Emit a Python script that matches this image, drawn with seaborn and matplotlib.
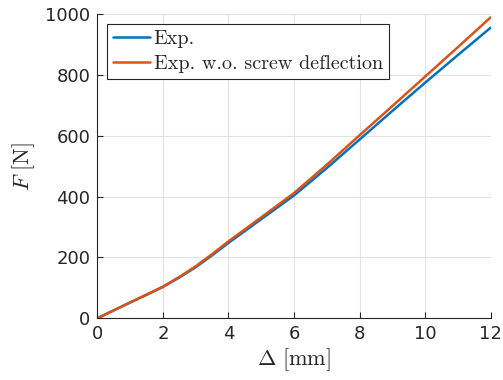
import matplotlib
matplotlib.use("Agg")
import matplotlib.pyplot as plt
from matplotlib.lines import Line2D
import seaborn as sns
import pandas as pd

# Data
displacement = [0, 0.5, 1, 1.5, 2, 2.5, 3, 3.5, 4, 5, 6, 7, 8, 9, 10, 11, 12]
force_exp = [0, 26, 52, 77, 103, 134, 168, 207, 248, 326, 404, 494, 588, 682, 775, 866, 956]
force_no_screw = [0, 26, 52, 78, 104, 136, 171, 211, 253, 332, 412, 505, 602, 698, 795, 892, 990]
x_ticks = [0, 2, 4, 6, 8, 10, 12]
y_ticks = [0, 200, 400, 600, 800, 1000]
series_names = ["Exp.", "Exp. w.o. screw deflection"]

sns.set_style("white")
plt.rcParams["font.family"] = ["DejaVu Sans"]
plt.rcParams["mathtext.fontset"] = "cm"

df = pd.DataFrame({
    "x": displacement * 2,
    "F": force_exp + force_no_screw,
    "series": [series_names[0]] * len(displacement) + [series_names[1]] * len(displacement),
})

fig = plt.figure(figsize=(5.03, 3.80), dpi=100)
ax = fig.add_axes([0.1935, 0.1624, 0.782, 0.80])

palette = {series_names[0]: "#0072BD", series_names[1]: "#D95319"}
sns.lineplot(data=df, x="x", y="F", hue="series", palette=palette, ax=ax,
             linewidth=1.8, legend=False)

ax.set_xlim(0, 12)
ax.set_ylim(0, 1000)
ax.set_xticks(x_ticks)
ax.set_yticks(y_ticks)
ax.grid(True, color="#e3e3e3", linewidth=0.8)
ax.set_axisbelow(True)
for s in ["top", "right"]:
    ax.spines[s].set_visible(False)
for s in ["left", "bottom"]:
    ax.spines[s].set_color("#262626")
    ax.spines[s].set_linewidth(0.8)
ax.tick_params(direction="in", length=4, width=0.8, colors="#262626",
               labelsize=13, left=True, bottom=True, pad=5)

ax.set_xlabel(r"$\Delta\ [\mathrm{mm}]$", fontsize=16, color="#262626", labelpad=2)
ax.set_ylabel(r"$F\ [\mathrm{N}]$", fontsize=16, color="#262626", labelpad=6)

handles = [Line2D([], [], color=palette[n], linewidth=1.8) for n in series_names]
leg = ax.legend(handles, series_names, loc="upper left", frameon=True,
                prop={"family": "cmr10", "size": 14.5},
                fancybox=False, edgecolor="#262626", framealpha=1,
                handlelength=1.8, handletextpad=0.2, borderpad=0.3,
                labelspacing=0.3, borderaxespad=0.5)
leg.get_frame().set_linewidth(0.8)

fig.savefig("out.png", dpi=100)
